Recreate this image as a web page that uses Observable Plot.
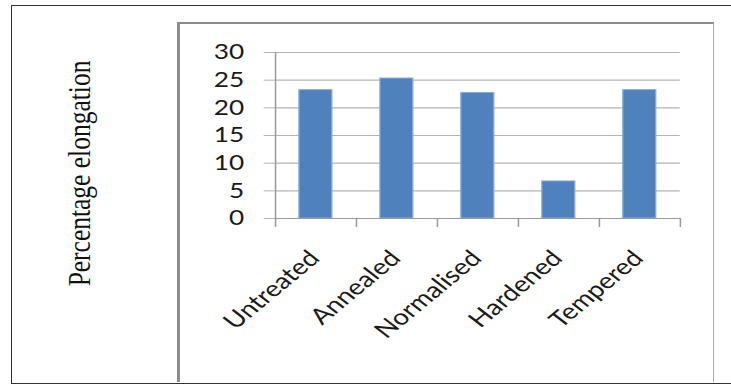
<!DOCTYPE html>
<html>
<head>
<meta charset="utf-8">
<script src="https://cdn.jsdelivr.net/npm/d3@7"></script>
<script src="https://cdn.jsdelivr.net/npm/@observablehq/plot@0.6"></script>
<style>
  html, body { margin: 0; padding: 0; background: #fff; overflow: hidden; }
  #page { position: relative; width: 731px; height: 387px; overflow: hidden; }
  #chart svg { position: absolute; left: 0; top: 0; }
  .outer { position: absolute; left: 11px; top: 5px; right: -6px; bottom: 3px;
           border: 1px solid #333; box-sizing: border-box; pointer-events: none; }
  .inner { position: absolute; left: 177px; top: 22px; width: 537px; height: 360px;
           border-left: 3px solid #8c8c8c; border-top: 2px solid #8c8c8c;
           border-right: 1px solid #a8a8a8; box-sizing: border-box; pointer-events: none; }
</style>
</head>
<body>
<div id="page">
  <div id="chart"></div>
  <div class="outer"></div>
  <div class="inner"></div>
</div>
<script>
// Elongation after each heat treatment
const categories = ["Untreated", "Annealed", "Normalised", "Hardened", "Tempered"];
const elongation = [23.2, 25.3, 22.7, 6.7, 23.2];
const yTicks = [0, 5, 10, 15, 20, 25, 30];
const yLabel = "Percentage elongation";

const rows = categories.map((category, index) => ({category, index, value: elongation[index]}));
// category boundaries, where the x axis carries its tick marks
const boundaries = d3.range(categories.length + 1);

// The chart is laid out on a narrower canvas and then widened, like a
// spreadsheet chart pasted into a document and stretched sideways.
const innerWidth = 585;
const outerWidth = 731;
const height = 387;

const chart = Plot.plot({
  width: innerWidth,
  height,
  marginTop: 52,
  marginBottom: 169,
  marginLeft: 220,
  marginRight: 41,
  style: {fontFamily: "Lato", fontSize: "21px", background: "transparent"},
  x: {type: "linear", domain: [0, categories.length], axis: null},
  y: {domain: [0, 30], axis: null},
  marks: [
    Plot.gridY(yTicks, {stroke: "#b3b3b3", strokeOpacity: 1, strokeWidth: 1.2}),
    Plot.axisY({ticks: yTicks, tickSize: 9, tickPadding: 16, stroke: "#b3b3b3", fill: "#1a1a1a", label: null}),
    Plot.ruleX(boundaries, {y1: 0, y2: 0, insetBottom: -9, stroke: "#999", strokeWidth: 1.2}),
    Plot.rectY(rows, {
      x1: "index",
      x2: d => d.index + 1,
      y: "value",
      insetLeft: 19.2,
      insetRight: 19.2,
      fill: "#4f81bd",
      stroke: "#8eacd6",
      strokeWidth: 1
    }),
    Plot.ruleX([0], {y1: 0, y2: 30, stroke: "#999", strokeWidth: 1.2}),
    Plot.ruleY([0], {stroke: "#999", strokeWidth: 1.2}),
    Plot.text(rows, {
      x: d => d.index + 0.5,
      frameAnchor: "bottom",
      text: "category",
      rotate: -46,
      textAnchor: "end",
      dx: 4,
      dy: 41,
      fontSize: 22.3,
      fill: "#1a1a1a"
    }),
    Plot.text([yLabel], {
      frameAnchor: "left",
      rotate: -90,
      textAnchor: "middle",
      dx: -157,
      dy: 38,
      fontFamily: "Liberation Serif",
      fontSize: 25.5,
      fill: "#111"
    })
  ]
});

// widen the drawing to the full page width
chart.setAttribute("preserveAspectRatio", "none");
chart.setAttribute("width", outerWidth);
chart.setAttribute("height", height);
chart.style.width = outerWidth + "px";
chart.style.height = height + "px";
chart.style.maxWidth = "none";
document.getElementById("chart").appendChild(chart);
</script>
</body>
</html>
